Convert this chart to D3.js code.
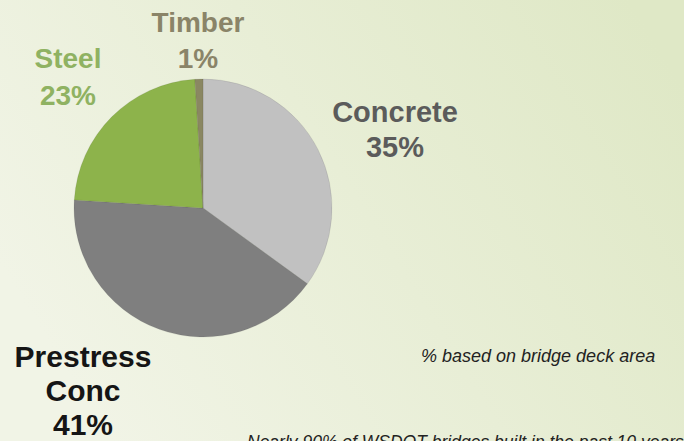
<!DOCTYPE html>
<html>
<head>
<meta charset="utf-8">
<script src="https://cdn.jsdelivr.net/npm/d3@7"></script>
<style>
  html, body { margin: 0; padding: 0; }
  body { width: 684px; height: 441px; overflow: hidden; }
  text { font-family: "Liberation Sans", Arial, Helvetica, sans-serif; }
</style>
</head>
<body>
<svg id="chart"></svg>
<script>
// bridge types, share of deck area (%)
const categories = ["Concrete", "Prestress Conc", "Steel", "Timber"];
const shares = [35, 41, 23, 1];
const labelLines = [["Concrete", "35%"], ["Prestress", "Conc", "41%"], ["Steel", "23%"], ["Timber", "1%"]];
const note = "% based on bridge deck area";
const footer = "Nearly 90% of WSDOT bridges built in the past 10 years";

const width = 684, height = 441;
const cx = 203, cy = 208, radius = 129;

const svg = d3.select("#chart")
    .attr("width", width)
    .attr("height", height);

// soft green background
const defs = svg.append("defs");
const grad = defs.append("linearGradient")
    .attr("id", "bg")
    .attr("x1", "0").attr("y1", "0.6")
    .attr("x2", "1").attr("y2", "0.2");
grad.append("stop").attr("offset", "0").attr("stop-color", "#f1f4e6");
grad.append("stop").attr("offset", "1").attr("stop-color", "#dfe8c6");

svg.append("rect")
    .attr("width", width)
    .attr("height", height)
    .attr("fill", "url(#bg)");

const color = d3.scaleOrdinal()
    .domain(categories)
    .range(["#c1c1c1", "#7f7f7f", "#8db34b", "#8a8762"]);

const textColor = d3.scaleOrdinal()
    .domain(categories)
    .range(["#5b5b5b", "#151515", "#8fb262", "#8a8468"]);

const pie = d3.pie().sort(null).value(d => d);
const arc = d3.arc().innerRadius(0).outerRadius(radius);

const g = svg.append("g")
    .attr("transform", `translate(${cx}, ${cy})`);

g.selectAll(".slice")
    .data(pie(shares))
    .enter()
    .append("path")
    .attr("class", "slice")
    .attr("d", arc)
    .attr("fill", (d, i) => color(categories[i]))
    .attr("stroke", "rgba(0,0,0,0.08)")
    .attr("stroke-width", 1);

// label anchor points (center x, first baseline y, font size, line gap)
const labelPos = [
    { x: 395, y: 122, size: 29, gap: 35 },
    { x: 83, y: 367, size: 30, gap: 34 },
    { x: 68, y: 68, size: 28, gap: 37 },
    { x: 198, y: 32, size: 28, gap: 36 }
];

categories.forEach((c, i) => {
    const p = labelPos[i];
    const t = svg.append("text")
        .attr("text-anchor", "middle")
        .attr("font-weight", "bold")
        .attr("font-size", p.size)
        .attr("fill", textColor(c));
    labelLines[i].forEach((line, k) => {
        t.append("tspan")
            .attr("x", p.x)
            .attr("y", p.y + k * p.gap)
            .text(line);
    });
});

svg.append("text")
    .attr("x", 421)
    .attr("y", 362)
    .attr("font-size", 18)
    .attr("font-style", "italic")
    .attr("fill", "#222")
    .text(note);

svg.append("text")
    .attr("x", 247)
    .attr("y", 448)
    .attr("font-size", 17.5)
    .attr("font-style", "italic")
    .attr("fill", "#222")
    .text(footer);
</script>
</body>
</html>
